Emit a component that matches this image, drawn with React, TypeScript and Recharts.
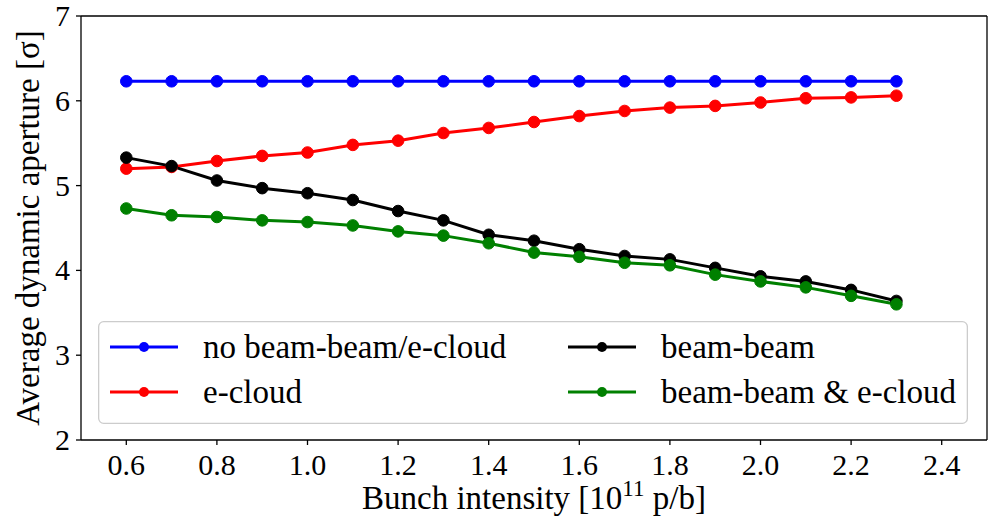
import React from "react"
import {
  LineChart,
  Line,
  XAxis,
  YAxis,
  Legend,
  ReferenceLine,
} from "recharts"

// Bunch intensity in units of 1e11 protons per bunch
const intensity = [0.6, 0.7, 0.8, 0.9, 1.0, 1.1, 1.2, 1.3, 1.4, 1.5, 1.6, 1.7, 1.8, 1.9, 2.0, 2.1, 2.2, 2.3]

// Average dynamic aperture [sigma] for each scenario
const noBeamBeamNoEcloud = [6.23, 6.23, 6.23, 6.23, 6.23, 6.23, 6.23, 6.23, 6.23, 6.23, 6.23, 6.23, 6.23, 6.23, 6.23, 6.23, 6.23, 6.23]
const eCloud = [5.20, 5.22, 5.29, 5.35, 5.39, 5.48, 5.53, 5.62, 5.68, 5.75, 5.82, 5.88, 5.92, 5.94, 5.98, 6.03, 6.04, 6.06]
const beamBeam = [5.33, 5.23, 5.06, 4.97, 4.91, 4.83, 4.70, 4.59, 4.42, 4.35, 4.25, 4.17, 4.13, 4.03, 3.93, 3.87, 3.77, 3.64]
const beamBeamEcloud = [4.73, 4.65, 4.63, 4.59, 4.57, 4.53, 4.46, 4.41, 4.32, 4.21, 4.16, 4.09, 4.06, 3.95, 3.87, 3.80, 3.70, 3.60]

const xTicks = [0.6, 0.8, 1.0, 1.2, 1.4, 1.6, 1.8, 2.0, 2.2, 2.4]
const yTicks = [2, 3, 4, 5, 6, 7]

const X_MIN = 0.5
const X_MAX = 2.5
const Y_MIN = 2
const Y_MAX = 7

const series = [
  { key: "none", name: "no beam-beam/e-cloud", color: "#0000ff", values: noBeamBeamNoEcloud },
  { key: "ecloud", name: "e-cloud", color: "#ff0000", values: eCloud },
  { key: "bb", name: "beam-beam", color: "#000000", values: beamBeam },
  { key: "bbec", name: "beam-beam & e-cloud", color: "#008000", values: beamBeamEcloud },
]

const data = intensity.map((x, i) => {
  const row: Record<string, number> = { x }
  series.forEach((s) => { row[s.key] = s.values[i] })
  return row
})

const FONT = "Liberation Serif, DejaVu Serif, serif"

// two columns, filled column by column
const legendSlots = [
  { key: "none", col: 0, row: 0 },
  { key: "ecloud", col: 0, row: 1 },
  { key: "bb", col: 1, row: 0 },
  { key: "bbec", col: 1, row: 1 },
]
const colX = [12, 470]
const rowY = [26, 71]

function LegendBox() {
  return (
    <svg width={870} height={103} style={{ display: "block" }}>
      <rect x={0.65} y={0.65} width={868.7} height={101.7} rx={5} fill="#fff" fillOpacity={0.8} stroke="#cccccc" strokeWidth={1.3} />
      {legendSlots.map(({ key, col, row }) => {
        const s = series.find((d) => d.key === key)!
        const x0 = colX[col]
        const y0 = rowY[row]
        return (
          <g key={key}>
            <line x1={x0} y1={y0} x2={x0 + 68} y2={y0} stroke={s.color} strokeWidth={3} />
            <circle cx={x0 + 34} cy={y0} r={5} fill={s.color} />
            <text x={x0 + 93} y={y0 + 11} fontFamily={FONT} fontSize={33} fill="#000">
              {s.name}
            </text>
          </g>
        )
      })}
    </svg>
  )
}

function XTick(props: any) {
  const { x, payload } = props
  return (
    <text x={x} y={475} textAnchor="middle" fontFamily={FONT} fontSize={30} fill="#000">
      {Number(payload.value).toFixed(1)}
    </text>
  )
}

function YTick(props: any) {
  const { y, payload } = props
  return (
    <text x={70} y={y + 10} textAnchor="end" fontFamily={FONT} fontSize={30} fill="#000">
      {payload.value}
    </text>
  )
}

function XTitle(props: any) {
  const { viewBox } = props
  const cx = viewBox.x + viewBox.width / 2
  return (
    <text x={cx} y={509} textAnchor="middle" fontFamily={FONT} fontSize={33} fill="#000">
      Bunch intensity [10
      <tspan dy={-13} fontSize={23}>11</tspan>
      <tspan dy={13}> p/b]</tspan>
    </text>
  )
}

function YTitle(props: any) {
  const { viewBox } = props
  const cy = viewBox.y + viewBox.height / 2
  return (
    <text
      x={39}
      y={cy}
      transform={`rotate(-90, 39, ${cy})`}
      textAnchor="middle"
      fontFamily={FONT}
      fontSize={33}
      fill="#000"
    >
      Average dynamic aperture [σ]
    </text>
  )
}

export default function App() {
  const axisLine = { stroke: "#000", strokeWidth: 1.3 }
  return (
    <div style={{ position: "absolute", left: 0, top: 0, width: 988, height: 526, background: "#fff" }}>
      <LineChart
        width={988}
        height={526}
        data={data}
        margin={{ top: 16, right: 1, bottom: 0, left: 0 }}
      >
        <XAxis
          dataKey="x"
          type="number"
          domain={[X_MIN, X_MAX]}
          ticks={xTicks}
          height={86}
          tick={<XTick />}
          tickSize={5}
          axisLine={axisLine}
          tickLine={axisLine}
          allowDataOverflow
          label={<XTitle />}
        />
        <YAxis
          type="number"
          domain={[Y_MIN, Y_MAX]}
          ticks={yTicks}
          width={81}
          tick={<YTick />}
          tickSize={5}
          axisLine={axisLine}
          tickLine={axisLine}
          allowDataOverflow
          label={<YTitle />}
        />
        {/* top and right frame lines */}
        <ReferenceLine y={Y_MAX} stroke="#000" strokeWidth={1.3} />
        <ReferenceLine x={X_MAX} stroke="#000" strokeWidth={1.3} />
        {series.map((s) => (
          <Line
            key={s.key}
            dataKey={s.key}
            name={s.name}
            stroke={s.color}
            strokeWidth={3}
            dot={{ r: 5.8, fill: s.color, stroke: s.color, strokeWidth: 1 }}
            activeDot={false}
            isAnimationActive={false}
          />
        ))}
        <Legend
          layout="horizontal"
          verticalAlign="middle"
          align="center"
          wrapperStyle={{ left: 98, top: 321, width: 870, height: 103 }}
          content={() => <LegendBox />}
        />
      </LineChart>
    </div>
  )
}
